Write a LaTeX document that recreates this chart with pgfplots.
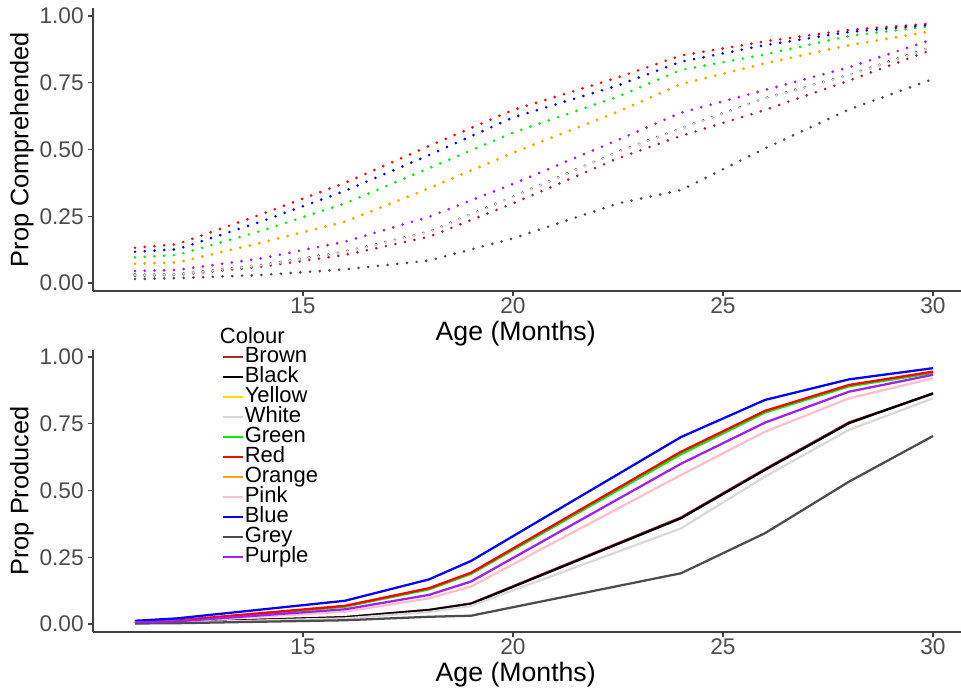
\documentclass[border=0pt]{standalone}
\usepackage{fontspec}
\setmainfont{Liberation Sans}
\usepackage{pgfplots}
\usepackage{pgfplotstable}
\pgfplotsset{compat=1.18}

\definecolor{cBrown}{HTML}{A52A2A}
\definecolor{cBlack}{HTML}{000000}
\definecolor{cYellow}{HTML}{FFD700}
\definecolor{cWhite}{HTML}{D9D9D9}
\definecolor{cGreen}{HTML}{00EE00}
\definecolor{cRed}{HTML}{FF0000}
\definecolor{cOrange}{HTML}{FFA500}
\definecolor{cPink}{HTML}{FFC0CB}
\definecolor{cBlue}{HTML}{0000FF}
\definecolor{cGrey}{HTML}{4D4D4D}
\definecolor{cPurple}{HTML}{A020F0}

% comprehension (top panel)
\pgfplotstableread{
age  brown black yellow white green red   orange pink  blue  grey  purple
11   0.027 0.031 0.071  0.030 0.096 0.132 0.072  0.044 0.117 0.015 0.045
12   0.030 0.033 0.076  0.032 0.105 0.145 0.077  0.048 0.126 0.018 0.049
14   0.061 0.067 0.150  0.066 0.195 0.257 0.151  0.091 0.230 0.030 0.092
16   0.105 0.117 0.229  0.116 0.298 0.375 0.230  0.154 0.345 0.051 0.155
18   0.173 0.192 0.354  0.191 0.430 0.513 0.355  0.247 0.479 0.084 0.248
20   0.298 0.323 0.487  0.322 0.563 0.648 0.488  0.370 0.620 0.167 0.371
22.5 0.467 0.492 0.641  0.491 0.698 0.770 0.642  0.535 0.740 0.298 0.536
24   0.551 0.579 0.744  0.578 0.798 0.852 0.745  0.637 0.829 0.348 0.638
26   0.648 0.692 0.822  0.691 0.856 0.905 0.823  0.722 0.891 0.504 0.723
28   0.758 0.779 0.890  0.778 0.925 0.948 0.891  0.807 0.940 0.650 0.808
30   0.875 0.885 0.943  0.884 0.963 0.972 0.944  0.912 0.968 0.764 0.913
}\topdata

% production (bottom panel)
\pgfplotstableread{
age  brown black yellow white green red   orange pink  blue  grey  purple
11   0.004 0.004 0.007  0.003 0.007 0.008 0.008  0.005 0.012 0.002 0.006
12   0.006 0.006 0.012  0.005 0.012 0.013 0.013  0.009 0.021 0.003 0.010
16   0.026 0.025 0.066  0.021 0.065 0.068 0.067  0.046 0.087 0.014 0.055
18   0.053 0.052 0.131  0.045 0.130 0.134 0.133  0.096 0.167 0.027 0.109
19   0.077 0.075 0.189  0.068 0.188 0.192 0.190  0.140 0.236 0.031 0.159
24   0.399 0.396 0.638  0.358 0.636 0.645 0.642  0.558 0.700 0.190 0.600
26   0.580 0.577 0.794  0.552 0.792 0.798 0.796  0.720 0.839 0.340 0.754
28   0.755 0.752 0.891  0.727 0.890 0.895 0.893  0.845 0.916 0.533 0.870
30   0.862 0.864 0.941  0.845 0.940 0.945 0.943  0.920 0.958 0.704 0.933
}\botdata

\pgfplotsset{
  panel/.style={
    scale only axis, width=651pt,
    xmin=10, xmax=30.667,
    clip mode=individual,
    axis lines=left, axis line style={-, black!75, line width=0.9pt},
    xtick={15,20,25,30}, ytick={0,0.25,0.5,0.75,1},
    yticklabel style={/pgf/number format/.cd, fixed, fixed zerofill, precision=2},
    xticklabel style={inner sep=1.5pt},
    /pgf/number format/assume math mode=true,
    tick align=outside, major tick length=3.5pt,
    tick style={black!75, line width=0.9pt},
    ticklabel style={font=\fontsize{17}{19}\selectfont, text=black!70},
    xlabel style={font=\fontsize{20}{22}\selectfont},
    ylabel style={font=\fontsize{19}{22}\selectfont},
  },
  dots/.style={line width=2.2pt, line cap=round, dash pattern=on 0pt off 7.3pt},
  solid line/.style={line width=1.7pt},
}

\begin{document}
\begin{tikzpicture}
\useasboundingbox (0,0) rectangle (720.75pt,-519pt);

\begin{axis}[panel,
  at={(69.75pt,-218.25pt)}, height=212.25pt,
  ymin=-0.03, ymax=1.03,
  xlabel={Age (Months)}, ylabel={Prop Comprehended},
  xlabel style={at={(axis description cs:0.487,-0.149)}, anchor=center},
  ylabel style={at={(axis description cs:-0.082,0.5)}, anchor=center},
]
\addplot[cBrown, dots] table[x=age, y=brown] {\topdata};
\addplot[cBlack, dots] table[x=age, y=black] {\topdata};
\addplot[cYellow, dots] table[x=age, y=yellow] {\topdata};
\addplot[cWhite, dots] table[x=age, y=white] {\topdata};
\addplot[cGreen, dots] table[x=age, y=green] {\topdata};
\addplot[cRed, dots] table[x=age, y=red] {\topdata};
\addplot[cOrange, dots] table[x=age, y=orange] {\topdata};
\addplot[cPink, dots] table[x=age, y=pink] {\topdata};
\addplot[cBlue, dots] table[x=age, y=blue] {\topdata};
\addplot[cGrey, dots] table[x=age, y=grey] {\topdata};
\addplot[cPurple, dots] table[x=age, y=purple] {\topdata};
\end{axis}

\begin{axis}[panel,
  at={(69.75pt,-474pt)}, height=211.5pt,
  ymin=-0.03, ymax=1.026,
  xlabel={Age (Months)}, ylabel={Prop Produced},
  xlabel style={at={(axis description cs:0.487,-0.150)}, anchor=center},
  ylabel style={at={(axis description cs:-0.082,0.5)}, anchor=center},
  legend style={at={(axis description cs:0.148,1.011)}, anchor=north west,
    draw=none, fill=none, inner sep=0pt, outer sep=0pt, row sep=0pt,
    font=\fontsize{16.5}{15}\selectfont,
    nodes={inner sep=0.3pt, text height=11.6pt, text depth=2.8pt}},
  legend cell align=left,
  legend image code/.code={\draw[#1] (0pt,0pt) -- (15.5pt,0pt);},
]
\addplot[cBrown, solid line, forget plot] table[x=age, y=brown] {\botdata};
\addplot[cBlack, solid line, forget plot] table[x=age, y=black] {\botdata};
\addplot[cWhite, solid line, forget plot] table[x=age, y=white] {\botdata};
\addplot[cYellow, solid line, forget plot] table[x=age, y=yellow] {\botdata};
\addplot[cOrange, solid line, forget plot] table[x=age, y=orange] {\botdata};
\addplot[cGreen, solid line, forget plot] table[x=age, y=green] {\botdata};
\addplot[cRed, solid line, forget plot] table[x=age, y=red] {\botdata};
\addplot[cPink, solid line, forget plot] table[x=age, y=pink] {\botdata};
\addplot[cBlue, solid line, forget plot] table[x=age, y=blue] {\botdata};
\addplot[cGrey, solid line, forget plot] table[x=age, y=grey] {\botdata};
\addplot[cPurple, solid line, forget plot] table[x=age, y=purple] {\botdata};

\addlegendimage{cBrown, solid line}\addlegendentry{Brown}
\addlegendimage{cBlack, solid line}\addlegendentry{Black}
\addlegendimage{cYellow, solid line}\addlegendentry{Yellow}
\addlegendimage{cWhite, solid line}\addlegendentry{White}
\addlegendimage{cGreen, solid line}\addlegendentry{Green}
\addlegendimage{cRed, solid line}\addlegendentry{Red}
\addlegendimage{cOrange, solid line}\addlegendentry{Orange}
\addlegendimage{cPink, solid line}\addlegendentry{Pink}
\addlegendimage{cBlue, solid line}\addlegendentry{Blue}
\addlegendimage{cGrey, solid line}\addlegendentry{Grey}
\addlegendimage{cPurple, solid line}\addlegendentry{Purple}

\node[anchor=west, inner sep=0pt, font=\fontsize{16.5}{18}\selectfont]
  at (axis description cs:0.146,1.05) {Colour};
\end{axis}
\end{tikzpicture}
\end{document}
